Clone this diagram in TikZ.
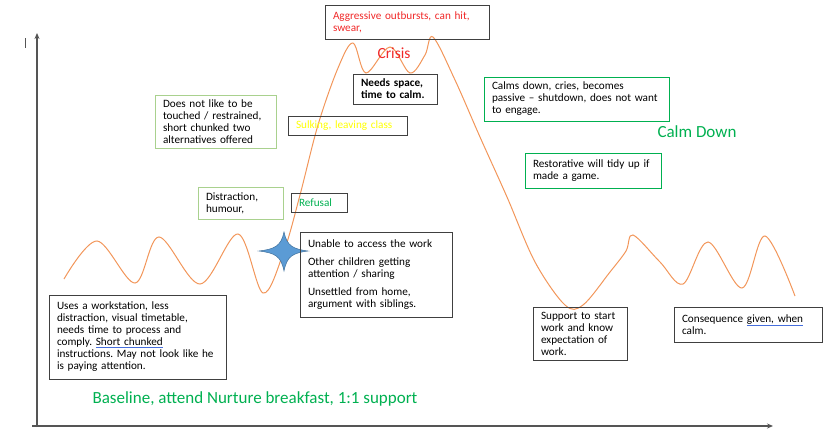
\documentclass[tikz,border=0pt]{standalone}
\usepackage{fontspec}
\setmainfont{Carlito}
\usetikzlibrary{arrows.meta}
\definecolor{curveorange}{RGB}{242,150,90}
\definecolor{crisisred}{RGB}{240,40,40}
\definecolor{sulkyellow}{RGB}{255,255,0}
\definecolor{calmgreen}{RGB}{0,176,80}
\definecolor{lightgreen}{RGB}{169,209,142}
\definecolor{boxgray}{RGB}{64,64,64}
\definecolor{axisgray}{RGB}{85,85,85}
\definecolor{starblue}{RGB}{91,155,213}
\definecolor{staredge}{RGB}{65,113,156}
\definecolor{spellblue}{RGB}{70,110,220}
\newcommand\spellul[1]{{\color{spellblue}\underline{\color{black}#1}}}
\frenchspacing
\tikzset{
  tbox/.style={draw=boxgray, line width=0.8pt, inner xsep=8pt, inner ysep=2pt,
    align=left, font=\fontsize{11.2}{12}\selectfont, text=black},
  bigword/.style={font=\fontsize{17}{20}\selectfont, inner sep=0pt},
  axisline/.style={draw=axisgray, line width=1.2pt, -{Stealth[length=6pt,width=5pt]}},
  curveline/.style={draw=curveorange, line width=1pt},
}
\begin{document}
\begin{tikzpicture}[x=1pt,y=-1pt]
\useasboundingbox (0,0) rectangle (828,429);

% axes
\coordinate (origin) at (37,427);
\coordinate (ytop) at (37,33);
\coordinate (xstart) at (32,426);
\coordinate (xend) at (773,426);
\draw[axisline] (origin) -- (ytop);
\draw[axisline] (xstart) -- (xend);
\draw[draw=axisgray, line width=1pt] (25,38) -- (25,48);

% curve
\draw[curveline] plot[smooth, tension=0.55] coordinates {
 (64,279) (97,241) (135,283) (159,237) (200,284) (238,234) (263,293)
 (284,251) (300,195) (318,125) (338,68) (353,43) (366,73) (390,47) (410,73)
 (425,55) (433,37) (455,80) (480,137) (507,197) (535,262) (565,305) (583,305)
 (610,272) (626,251) (633,235) (660,262) (683,284) (708,242) (742,288)
 (765,236) (795,296)};

% star
\draw[fill=starblue, draw=staredge, line width=0.5pt]
  (259,251) .. controls (275,249) and (281,246) .. (284,232)
  .. controls (287,246) and (293,249) .. (308,251)
  .. controls (293,253) and (287,256) .. (284,271)
  .. controls (281,256) and (275,253) .. (259,251) -- cycle;

% boxes
\node[tbox, minimum width=164pt, minimum height=34pt, text width=148pt, text=crisisred]
  (agg) at (407,22) {\mbox{Aggressive outbursts, can hit,}\\ swear,};
\node[tbox, minimum width=84pt, minimum height=30pt, text width=68pt, font=\fontsize{11.2}{12}\selectfont\bfseries]
  (needs) at (395,89) {\mbox{Needs space,}\\ \mbox{time to calm.}};
\node[tbox, minimum width=119pt, minimum height=19pt, text width=103pt, text=sulkyellow]
  (sulk) at (347.5,125.5) {\mbox{Sulking, leaving class}};
\node[tbox, draw=lightgreen, minimum width=121pt, minimum height=53pt, text width=105pt]
  (touch) at (215.5,121.5) {\mbox{Does not like to be}\\ \mbox{touched / restrained,}\\ \mbox{short chunked two}\\ \mbox{alternatives offered}};
\node[tbox, draw=lightgreen, minimum width=85pt, minimum height=32pt, text width=69pt]
  (distr) at (240.5,203) {Distraction,\\ humour,};
\node[tbox, minimum width=56pt, minimum height=19pt, text width=40pt, text=calmgreen]
  (refusal) at (319,202.5) {Refusal};
\node[tbox, minimum width=152pt, minimum height=85pt, text width=136pt]
  (unable) at (376,274.5) {\mbox{Unable to access the work}\\[6pt] \mbox{Other children getting}\\ \mbox{attention / sharing}\\[6pt] \mbox{Unsettled from home,}\\ \mbox{argument with siblings.}};
\node[tbox, minimum width=177pt, minimum height=84pt, text width=161pt]
  (uses) at (137.5,337) {\mbox{Uses a workstation, less}\\ \mbox{distraction, visual timetable,}\\ \mbox{needs time to process and}\\ \mbox{comply. \spellul{Short chunked}}\\ \mbox{instructions. May not look like he}\\ \mbox{is paying attention.}};
\node[tbox, draw=calmgreen, minimum width=185pt, minimum height=44pt, text width=169pt]
  (calms) at (576.5,99) {\mbox{Calms down, cries, becomes}\\ \mbox{passive -- shutdown, does not want}\\ \mbox{to engage.}};
\node[tbox, draw=calmgreen, minimum width=136pt, minimum height=35pt, text width=120pt]
  (restor) at (593,170.5) {\mbox{Restorative will tidy up if}\\ \mbox{made a game.}};
\node[tbox, minimum width=94pt, minimum height=53pt, text width=78pt]
  (support) at (580,333.5) {\mbox{Support to start}\\ \mbox{work and know}\\ \mbox{expectation of}\\ work.};
\node[tbox, minimum width=148pt, minimum height=35pt, text width=132pt]
  (conseq) at (748,324.5) {\mbox{Consequence \spellul{given, when}}\\ calm.};

% phase labels
\node[bigword, font=\fontsize{15.5}{18}\selectfont, text=crisisred] (crisis) at (394,53) {Crisis};
\node[bigword, text=calmgreen] (calmdown) at (697,132) {Calm Down};
\node[bigword, text=calmgreen] (baseline) at (255,399) {Baseline, attend Nurture breakfast, 1:1 support};
\end{tikzpicture}
\end{document}
